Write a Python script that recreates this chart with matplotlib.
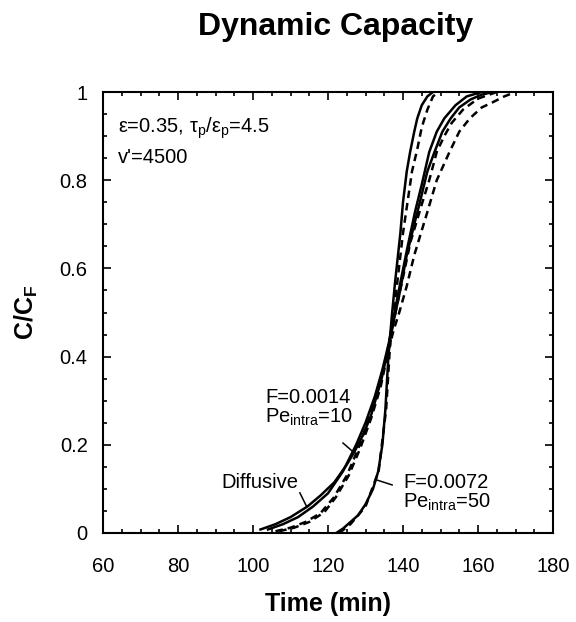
import matplotlib
matplotlib.use("Agg")
import matplotlib.pyplot as plt
from matplotlib.ticker import MultipleLocator

plt.rcParams['font.family'] = ['Liberation Sans', 'DejaVu Sans']
plt.rcParams['mathtext.fontset'] = 'custom'
plt.rcParams['mathtext.rm'] = 'Liberation Sans'
plt.rcParams['mathtext.it'] = 'Liberation Sans'
plt.rcParams['mathtext.bf'] = 'Liberation Sans:bold'

# steep pair: F=0.0072, Pe_intra=50
t_steep_solid = [122.2, 124, 126, 128, 130, 132, 133.4, 134.5, 135.3, 136.1, 137, 137.9,
                 139.3, 140, 141, 141.9, 143, 143.8, 145, 146.5, 148]
c_steep_solid = [0.0, 0.01, 0.025, 0.04, 0.065, 0.1, 0.14, 0.2, 0.28, 0.4, 0.49, 0.57,
                 0.68, 0.75, 0.82, 0.864, 0.91, 0.94, 0.97, 0.99, 1.0]
t_steep_dash = [123, 126, 130, 133.5, 135.5, 136.5, 138.5, 140, 141.2, 142.4, 143.8,
                145, 146.5, 148, 149.5]
c_steep_dash = [0.0, 0.02, 0.06, 0.14, 0.28, 0.42, 0.57, 0.68, 0.75, 0.82, 0.87,
                0.92, 0.96, 0.99, 1.0]

# diffusive
t_diff_solid = [102, 106, 110, 114.5, 118, 121.7, 125, 127.1, 129.5, 131.6, 134.3, 136.1,
                137.5, 139, 141, 143, 144.5, 146.5, 148.4, 150.5, 152.7, 155, 158, 161, 164]
c_diff_solid = [0.008, 0.02, 0.036, 0.06, 0.085, 0.115, 0.155, 0.185, 0.225, 0.27, 0.35, 0.42,
                0.48, 0.54, 0.63, 0.7, 0.75, 0.82, 0.864, 0.91, 0.94, 0.965, 0.983, 0.994, 1.0]
t_diff_dash = [107, 111, 115, 119, 122, 125.5, 128.5, 131.5, 134, 136, 137.5, 139, 141,
               143, 146.5, 149, 152.4, 155, 157.8, 161, 164, 167, 170]
c_diff_dash = [0.004, 0.012, 0.025, 0.047, 0.08, 0.13, 0.19, 0.26, 0.33, 0.41, 0.46, 0.5, 0.56,
               0.63, 0.728, 0.8, 0.864, 0.91, 0.94, 0.965, 0.977, 0.99, 1.0]

# F=0.0014, Pe_intra=10
t_low_solid = [104, 108, 112, 116, 120, 124, 127.5, 130, 132.5, 134.5, 136.2, 137.5, 139,
               141, 143.2, 145, 147, 149, 151, 154, 157, 161]
c_low_solid = [0.008, 0.02, 0.036, 0.06, 0.09, 0.14, 0.2, 0.25, 0.31, 0.37, 0.43, 0.49, 0.555,
               0.64, 0.728, 0.79, 0.864, 0.91, 0.94, 0.97, 0.99, 1.0]
t_low_dash = [106, 110, 114, 118, 121.5, 125, 128, 131, 133.5, 135.5, 137, 138.5, 140, 142,
              145, 147, 149, 151, 153, 156, 160, 165]
c_low_dash = [0.004, 0.012, 0.025, 0.045, 0.08, 0.13, 0.19, 0.26, 0.33, 0.4, 0.46, 0.52, 0.58,
              0.66, 0.745, 0.8, 0.864, 0.9, 0.93, 0.96, 0.985, 1.0]

fig = plt.figure(figsize=(5.76, 6.22), dpi=100)
ax = fig.add_axes([103 / 576, 89 / 622, 450 / 576, 441 / 622])

lw = 1.8
ax.plot(t_steep_solid, c_steep_solid, 'k-', lw=lw)
ax.plot(t_steep_dash, c_steep_dash, 'k--', lw=lw, dashes=(3, 2))
ax.plot(t_diff_solid, c_diff_solid, 'k-', lw=lw)
ax.plot(t_diff_dash, c_diff_dash, 'k--', lw=lw, dashes=(3, 2))
ax.plot(t_low_solid, c_low_solid, 'k-', lw=lw)
ax.plot(t_low_dash, c_low_dash, 'k--', lw=lw, dashes=(3, 2))

ax.set_xlim(60, 180)
ax.set_ylim(0, 1)
ax.xaxis.set_major_locator(MultipleLocator(20))
ax.xaxis.set_minor_locator(MultipleLocator(5))
ax.yaxis.set_minor_locator(MultipleLocator(0.05))
ax.set_yticks([0, 0.2, 0.4, 0.6, 0.8, 1.0])
ax.set_yticklabels(['0', '0.2', '0.4', '0.6', '0.8', '1'])
ax.tick_params(which='both', direction='in', top=True, right=True, width=1.2)
ax.tick_params(which='major', length=6)
ax.tick_params(which='minor', length=3)
ax.tick_params(axis='x', which='major', pad=17, labelsize=14.5)
ax.tick_params(axis='y', which='major', pad=11, labelsize=14.5)
for s in ax.spines.values():
    s.set_linewidth(1.5)

ax.set_xlabel('Time (min)', fontsize=18, fontweight='bold', labelpad=12)
ax.set_ylabel(r'C/C$_\mathbf{F}$', fontsize=18, fontweight='bold', labelpad=14)
fig.text(0.583, 0.957, 'Dynamic Capacity', fontsize=23, fontweight='bold',
         ha='center', va='center')

fs = 14.5
ax.text(64, 0.907, r'ε=0.35, $\mathregular{τ_p/ε_p}$=4.5', fontsize=fs, va='baseline')
ax.text(64, 0.839, "v'=4500", fontsize=fs, va='baseline')
ax.text(103.2, 0.295, 'F=0.0014', fontsize=fs, va='baseline')
ax.text(103.2, 0.249, r'$\mathregular{Pe_{intra}}$=10', fontsize=fs, va='baseline')
ax.text(91.6, 0.102, 'Diffusive', fontsize=fs, va='baseline')
ax.text(140, 0.102, 'F=0.0072', fontsize=fs, va='baseline')
ax.text(140, 0.057, r'$\mathregular{Pe_{intra}}$=50', fontsize=fs, va='baseline')

# pointer lines
ax.plot([112.5, 114.3], [0.091, 0.06], 'k-', lw=1.1)
ax.plot([124.0, 126.7], [0.204, 0.184], 'k-', lw=1.1)
ax.plot([133.1, 137.1], [0.12, 0.109], 'k-', lw=1.1)

fig.savefig('out.png', dpi=100)
